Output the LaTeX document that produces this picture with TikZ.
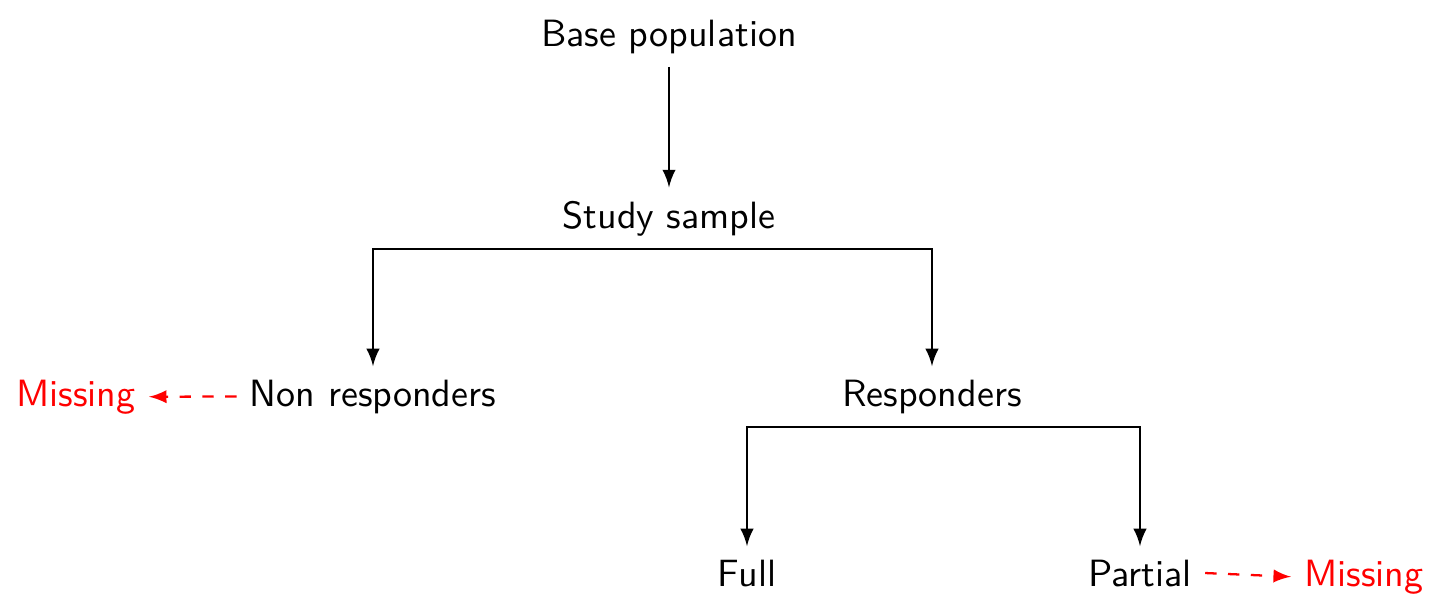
\documentclass[tikz,border=0pt]{standalone}
\usetikzlibrary{arrows}
\begin{document}
\begin{tikzpicture}[x=0.26316pt,y=-0.26316pt,
  box/.style={font=\sffamily, anchor=base},
  miss/.style={box, text=red},
  arr/.style={-latex, semithick},
  darr/.style={-latex, semithick, red, dashed}]
\useasboundingbox (0,0) rectangle (1436,608);
\node[box] (base) at (669,46) {Base population};
\node[box] (study) at (669,228) {Study sample};
\node[box] (nonresp) at (373,406) {Non responders};
\node[box] (resp) at (932,406) {Responders};
\node[box] (full) at (747,586) {Full};
\node[box] (partial) at (1140,586) {Partial};
\node[miss] (missL) at (76,406) {Missing};
\node[miss] (missR) at (1364,586) {Missing};
\draw[arr] (base.south) -- (study.north);
\draw[arr] (study.south) -| (nonresp.north);
\draw[arr] (study.south) -| (resp.north);
\draw[arr] (resp.south) -| (full.north);
\draw[arr] (resp.south) -| (partial.north);
\draw[darr] (nonresp.west) -- (missL.east);
\draw[darr] (partial.east) -- (missR.west);
\end{tikzpicture}
\end{document}
